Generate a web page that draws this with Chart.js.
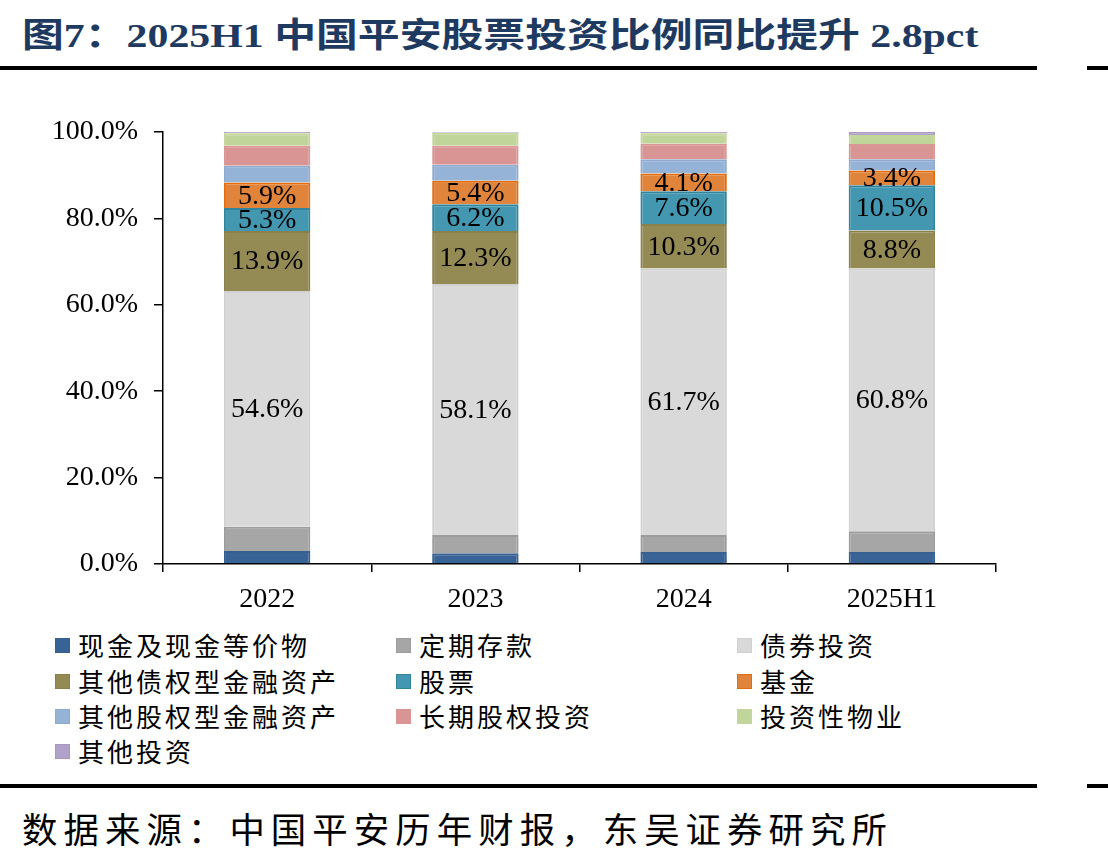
<!DOCTYPE html>
<html>
<head>
<meta charset="utf-8">
<script src="https://cdn.jsdelivr.net/npm/chart.js@4.4.1/dist/chart.umd.min.js"></script>
<style>
  body { margin: 0; width: 1108px; height: 857px; background: #fff; position: relative; overflow: hidden; }
  #title { position: absolute; left: 22px; top: 8px; white-space: nowrap; font: bold 34px "Liberation Serif", "Noto Sans CJK SC", serif; color: #1f3a60; transform-origin: left top; }
  .rule { position: absolute; height: 4px; background: #000; }
  #chart { position: absolute; left: 0; top: 0; }
  #legend { position: absolute; left: 0; top: 627px; width: 1108px; }
  .item { position: absolute; height: 36px; white-space: nowrap; font: 26px "Noto Sans CJK SC", sans-serif; letter-spacing: 3px; color: #000; line-height: 36px; }
  .item i { position: absolute; left: 0; top: 11px; width: 13px; height: 13px; border: 1px solid; }
  .item span { position: absolute; left: 23px; top: 0; }
  #source { position: absolute; left: 22px; top: 802px; white-space: nowrap; font: 35px "Noto Sans CJK SC", sans-serif; letter-spacing: 6px; color: #000; }
</style>
</head>
<body>
<div id="title">图7：2025H1 中国平安股票投资比例同比提升 2.8pct</div>
<div class="rule" style="left:0;width:1037px;top:66px"></div>
<div class="rule" style="left:1087px;width:21px;top:66px"></div>
<canvas id="chart" width="1108" height="620"></canvas>
<div id="legend"></div>
<div class="rule" style="left:0;width:1037px;top:784px"></div>
<div class="rule" style="left:1087px;width:21px;top:784px"></div>
<div id="source">数据来源：中国平安历年财报，东吴证券研究所</div>

<script>
// 中国平安投资资产配置占比（%）
const categories = ['2022', '2023', '2024', '2025H1'];
const cash = [3.0, 2.5, 2.8, 2.8];
const deposits = [5.6, 4.2, 3.9, 4.8];
const bonds = [54.6, 58.1, 61.7, 60.8];
const otherDebt = [13.9, 12.3, 10.3, 8.8];
const stocks = [5.3, 6.2, 7.6, 10.5];
const funds = [5.9, 5.4, 4.1, 3.4];
const otherEquity = [3.9, 3.7, 3.3, 2.6];
const longTermEquity = [4.6, 4.4, 3.6, 3.5];
const property = [2.9, 3.0, 2.4, 2.1];
const otherInvest = [0.3, 0.2, 0.3, 0.7];
const yTicks = [0, 20, 40, 60, 80, 100];

const series = [
  { label: '现金及现金等价物', data: cash, fill: '#386396', line: '#35608f' },
  { label: '定期存款', data: deposits, fill: '#a6a6a6', line: '#9c9c9c' },
  { label: '债券投资', data: bonds, fill: '#d9d9d9', line: '#d0d0d0', show: true },
  { label: '其他债权型金融资产', data: otherDebt, fill: '#948a54', line: '#8a804c', show: true },
  { label: '股票', data: stocks, fill: '#4397b0', line: '#31849b', show: true },
  { label: '基金', data: funds, fill: '#e0843c', line: '#e46c0a', show: true },
  { label: '其他股权型金融资产', data: otherEquity, fill: '#95b3d7', line: '#8eaacf' },
  { label: '长期股权投资', data: longTermEquity, fill: '#d99594', line: '#da9694' },
  { label: '投资性物业', data: property, fill: '#c0d59a', line: '#c4d79b' },
  { label: '其他投资', data: otherInvest, fill: '#b1a0c7', line: '#a898c0' }
];

const serif = 'Liberation Serif';

// 柱内数据标签
const barLabels = {
  id: 'barLabels',
  afterDatasetsDraw(chart) {
    const ctx = chart.ctx;
    ctx.save();
    ctx.font = '28px "' + serif + '"';
    ctx.fillStyle = '#000';
    ctx.textAlign = 'center';
    ctx.textBaseline = 'middle';
    chart.data.datasets.forEach((ds, i) => {
      if (!series[i].show) return;
      chart.getDatasetMeta(i).data.forEach((bar, j) => {
        const y = (bar.y + bar.base) / 2;
        ctx.fillText(ds.data[j].toFixed(1) + '%', bar.x, y + 1);
      });
    });
    ctx.restore();
  }
};

const chart = new Chart(document.getElementById('chart'), {
  type: 'bar',
  data: {
    labels: categories,
    datasets: series.map(s => ({
      label: s.label,
      data: s.data,
      backgroundColor: s.fill,
      borderColor: s.line,
      borderWidth: 2,
      categoryPercentage: 1,
      barPercentage: 0.415
    }))
  },
  options: {
    responsive: false,
    animation: false,
    devicePixelRatio: 1,
    layout: { padding: { top: 132, right: 112, left: 0, bottom: 0 } },
    plugins: { legend: { display: false }, tooltip: { enabled: false } },
    scales: {
      x: {
        stacked: true,
        grid: { drawOnChartArea: false, offset: true, tickLength: 8, color: '#000', lineWidth: 1.5 },
        border: { color: '#000', width: 1.5 },
        ticks: { color: '#000', font: { family: serif, size: 28 }, padding: 11 },
        afterFit: (scale) => { scale.height = 56; }
      },
      y: {
        stacked: true,
        min: 0,
        max: 100,
        afterBuildTicks: (scale) => { scale.ticks = yTicks.map(v => ({ value: v })); },
        grid: { drawOnChartArea: false, tickLength: 9, color: '#000', lineWidth: 1.5 },
        border: { color: '#000', width: 1.5 },
        ticks: { color: '#000', font: { family: serif, size: 28 }, padding: 16, callback: v => v.toFixed(1) + '%' },
        afterFit: (scale) => { scale.width = 163; }
      }
    }
  },
  plugins: [barLabels]
});

// 图例：三列排布
const legend = document.getElementById('legend');
const colX = [55, 396, 737];
const rowY = [0, 36, 71, 106];
chart.data.datasets.forEach((ds, i) => {
  const item = document.createElement('div');
  item.className = 'item';
  item.style.left = colX[i % 3] + 'px';
  item.style.top = rowY[Math.floor(i / 3)] + 'px';
  item.innerHTML = '<i style="background:' + ds.backgroundColor + ';border-color:' + ds.borderColor + '"></i><span>' + ds.label + '</span>';
  legend.appendChild(item);
});

// 标题宽度与原图对齐
const title = document.getElementById('title');
title.style.transform = 'scaleX(' + (956 / title.offsetWidth) + ')';
const source = document.getElementById('source');
source.style.transform = 'scaleX(' + (871 / source.offsetWidth) + ')';
source.style.transformOrigin = 'left top';
</script>
</body>
</html>
